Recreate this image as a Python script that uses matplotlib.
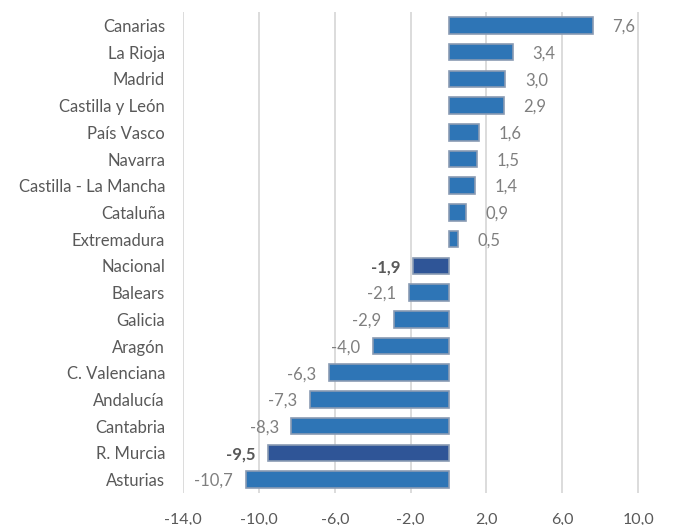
import matplotlib
matplotlib.use("Agg")
from matplotlib import pyplot as plt

regions = ["Canarias", "La Rioja", "Madrid", "Castilla y León", "País Vasco",
           "Navarra", "Castilla - La Mancha", "Cataluña", "Extremadura",
           "Nacional", "Balears", "Galicia", "Aragón", "C. Valenciana",
           "Andalucía", "Cantabria", "R. Murcia", "Asturias"]
values = [7.6, 3.4, 3.0, 2.9, 1.6, 1.5, 1.4, 0.9, 0.5,
          -1.9, -2.1, -2.9, -4.0, -6.3, -7.3, -8.3, -9.5, -10.7]
highlight = ["Nacional", "R. Murcia"]
xticks = [-14, -10, -6, -2, 2, 6, 10]

plt.rcParams['font.family'] = ['Lato', 'DejaVu Sans']

fig = plt.figure(figsize=(6.78, 5.25), dpi=100)
ax = fig.add_axes([0.270, 0.061, 0.730, 0.916])

y = list(range(len(regions)))
colors = ['#2F5597' if r in highlight else '#2E75B6' for r in regions]
ax.barh(y, values, height=0.62, color=colors, edgecolor='#8A9BB3', linewidth=1.2, zorder=3)

for yi, v, r in zip(y, values, regions):
    txt = f"{v:.1f}".replace('.', ',')
    bold = r in highlight
    if v >= 0:
        ax.annotate(txt, (v, yi), xytext=(14, -1), textcoords='offset points', ha='left', va='center',
                    fontsize=12, color='#595959' if bold else '#7F7F7F',
                    fontweight='bold' if bold else 'normal')
    else:
        ax.annotate(txt, (v, yi), xytext=(-9, -1), textcoords='offset points', ha='right', va='center',
                    fontsize=12, color='#595959' if bold else '#7F7F7F',
                    fontweight='bold' if bold else 'normal')

ax.set_xlim(-14, 12.1)
ax.set_ylim(len(regions) - 0.5, -0.5)
ax.set_xticks(xticks)
ax.set_xticklabels([f"{t:.1f}".replace('.', ',') for t in xticks])
ax.set_yticks(y)
ax.set_yticklabels(regions)
ax.tick_params(axis='both', length=0, labelcolor='#595959')
ax.tick_params(axis='y', pad=13, labelsize=12)
ax.tick_params(axis='x', pad=14, labelsize=11.5)
ax.grid(axis='x', color='#D9D9D9', linewidth=1.3, zorder=0)
for s in ax.spines.values():
    s.set_visible(False)

plt.savefig('out.png')
